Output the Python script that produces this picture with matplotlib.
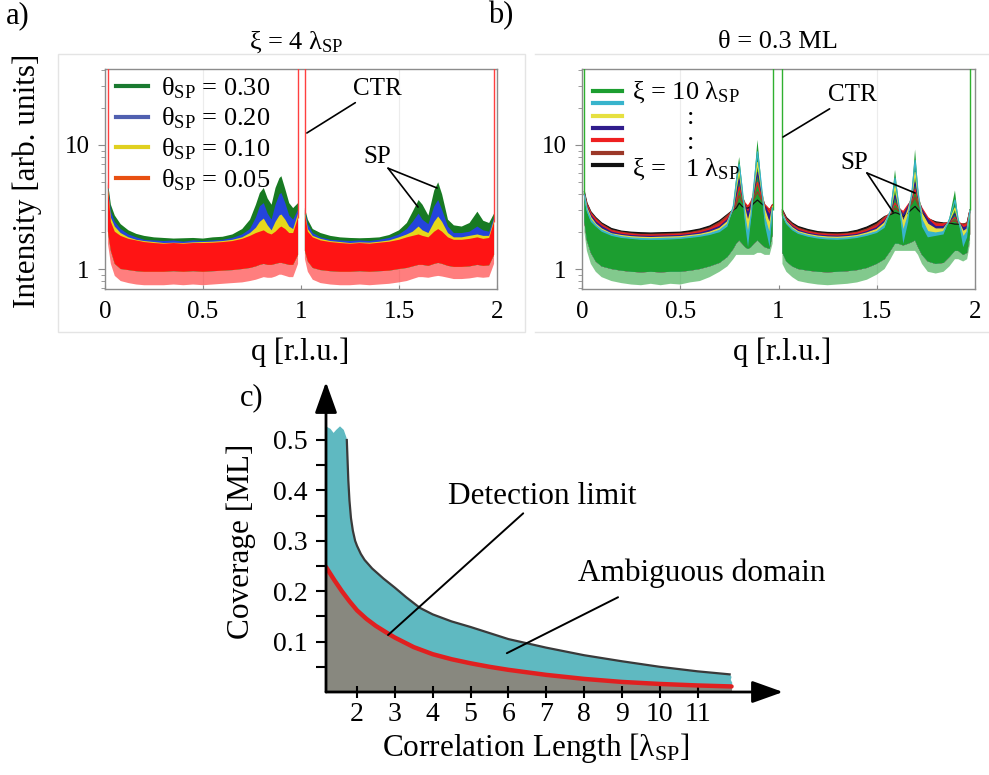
import numpy as np
import matplotlib

matplotlib.use("Agg")

import matplotlib.pyplot as plt
from matplotlib.lines import Line2D
from matplotlib.patches import Rectangle

plt.rcParams["font.family"] = ["Liberation Serif", "DejaVu Serif"]
plt.rcParams["mathtext.fontset"] = "custom"
plt.rcParams["mathtext.rm"] = "Liberation Serif"
plt.rcParams["mathtext.it"] = "Liberation Serif:italic"
plt.rcParams["mathtext.bf"] = "Liberation Serif:bold"

nan = np.nan

# ---- panel a: xi = 4 lambda_SP, four coverages ----
# each curve is drawn as its noise band: sparse floor -> dense core -> top
q_a = [0.015, 0.03, 0.05, 0.08, 0.12, 0.16, 0.2, 0.25, 0.3, 0.35,
       0.4, 0.45, 0.5, 0.55, 0.6, 0.65, 0.7, 0.74, 0.77, 0.79,
       0.81, 0.83, 0.85, 0.87, 0.89, 0.9, 0.92, 0.94, 0.96, 0.985,
       1.0, 1.02, 1.035, 1.06, 1.1, 1.15, 1.2, 1.25, 1.3, 1.35,
       1.4, 1.45, 1.5, 1.54, 1.57, 1.6, 1.62, 1.65, 1.68, 1.7,
       1.72, 1.75, 1.78, 1.82, 1.86, 1.9, 1.93, 1.96, 1.985]
floor_a = [1.6, 1.1, 0.88, 0.8, 0.77, 0.75, 0.74, 0.74, 0.74, 0.75,
           0.74, 0.75, 0.74, 0.75, 0.76, 0.77, 0.78, 0.8, 0.82, 0.84,
           0.86, 0.85, 0.85, 0.87, 0.9, 0.9, 0.88, 0.86, 0.86, 1.1,
           nan, 1.2, 0.95, 0.82, 0.77, 0.75, 0.74, 0.74, 0.75, 0.74,
           0.75, 0.76, 0.78, 0.8, 0.83, 0.86, 0.86, 0.85, 0.87, 0.88,
           0.87, 0.85, 0.83, 0.83, 0.84, 0.86, 0.85, 0.86, 1.1]
core_a = [2.0, 1.4, 1.1, 1.0, 0.98, 0.96, 0.95, 0.95, 0.95, 0.96,
          0.95, 0.96, 0.95, 0.96, 0.97, 0.98, 1.0, 1.02, 1.05, 1.08,
          1.1, 1.08, 1.08, 1.1, 1.12, 1.12, 1.1, 1.08, 1.08, 1.3,
          nan, 1.4, 1.15, 1.02, 0.98, 0.96, 0.95, 0.95, 0.96, 0.95,
          0.96, 0.97, 1.0, 1.02, 1.05, 1.08, 1.08, 1.06, 1.1, 1.12,
          1.1, 1.06, 1.04, 1.04, 1.05, 1.08, 1.06, 1.07, 1.3]
green_a = [5.0, 3.3, 2.7, 2.3, 2.05, 1.92, 1.85, 1.8, 1.78, 1.76,
           1.77, 1.78, 1.76, 1.8, 1.82, 1.9, 2.1, 2.5, 3.3, 4.1,
           4.5, 3.7, 3.3, 4.5, 5.4, 5.6, 4.4, 3.4, 3.1, 3.4,
           nan, 3.1, 2.5, 2.1, 1.95, 1.85, 1.8, 1.78, 1.77, 1.78,
           1.8, 1.88, 2.05, 2.35, 2.9, 3.6, 3.3, 2.7, 4.3, 5.0,
           4.0, 2.5, 2.25, 2.2, 2.35, 2.9, 2.45, 2.35, 2.8]
blue_a = [4.8, 2.9, 2.4, 2.1, 1.9, 1.8, 1.72, 1.7, 1.68, 1.7,
          1.66, 1.7, 1.68, 1.7, 1.72, 1.78, 1.9, 2.1, 2.6, 3.2,
          3.4, 2.8, 2.5, 3.3, 4.0, 4.1, 3.4, 2.7, 2.5, 3.0,
          nan, 3.0, 2.3, 1.95, 1.8, 1.72, 1.7, 1.68, 1.7, 1.68,
          1.72, 1.78, 1.9, 2.1, 2.4, 2.8, 2.5, 2.3, 3.2, 3.6,
          3.0, 2.2, 1.95, 1.95, 2.0, 2.2, 2.05, 2.0, 2.6]
yellow_a = [4.6, 2.6, 2.2, 1.95, 1.8, 1.72, 1.68, 1.65, 1.62, 1.63,
            1.62, 1.64, 1.65, 1.66, 1.68, 1.72, 1.8, 1.95, 2.15, 2.4,
            2.55, 2.25, 2.05, 2.4, 2.7, 2.75, 2.5, 2.2, 2.1, 2.8,
            nan, 2.9, 2.1, 1.85, 1.75, 1.68, 1.65, 1.62, 1.64, 1.63,
            1.66, 1.7, 1.8, 1.9, 2.0, 2.2, 2.05, 1.95, 2.4, 2.65,
            2.4, 1.95, 1.8, 1.8, 1.85, 1.9, 1.85, 1.85, 2.5]
red_a = [4.5, 2.4, 2.0, 1.85, 1.75, 1.7, 1.65, 1.62, 1.6, 1.62,
         1.6, 1.62, 1.62, 1.63, 1.65, 1.68, 1.75, 1.85, 1.95, 2.0,
         2.05, 1.95, 1.9, 2.0, 2.15, 2.2, 2.1, 1.95, 1.95, 2.6,
         nan, 2.8, 2.0, 1.8, 1.7, 1.65, 1.62, 1.6, 1.62, 1.6,
         1.63, 1.66, 1.72, 1.8, 1.85, 1.9, 1.85, 1.8, 2.0, 2.1,
         2.0, 1.8, 1.72, 1.72, 1.75, 1.8, 1.75, 1.78, 2.4]
ctr_q_a = [0.015, 0.985, 1.02, 1.985]
ctr_base_a = [4.5, 2.6, 2.8, 2.4]
labels_a = [r"θ$_\mathrm{SP}$ = 0.30", r"θ$_\mathrm{SP}$ = 0.20",
            r"θ$_\mathrm{SP}$ = 0.10", r"θ$_\mathrm{SP}$ = 0.05"]

# ---- panel b: theta = 0.3 ML, correlation length 10 .. 1 lambda_SP ----
q_b = [0.012, 0.025, 0.045, 0.07, 0.1, 0.15, 0.2, 0.25, 0.3, 0.35,
       0.4, 0.45, 0.5, 0.55, 0.6, 0.65, 0.7, 0.74, 0.77, 0.785,
       0.8, 0.815, 0.83, 0.845, 0.86, 0.875, 0.893, 0.91, 0.93, 0.955,
       0.97, 1.0, 1.02, 1.04, 1.07, 1.1, 1.15, 1.2, 1.25, 1.3,
       1.35, 1.4, 1.45, 1.5, 1.54, 1.57, 1.593, 1.61, 1.635, 1.66,
       1.68, 1.695, 1.71, 1.73, 1.76, 1.8, 1.84, 1.87, 1.898, 1.915,
       1.94, 1.96, 1.975]
floor_b = [2.0, 1.4, 1.1, 0.95, 0.86, 0.8, 0.77, 0.75, 0.74, 0.76,
           0.74, 0.76, 0.75, 0.78, 0.8, 0.86, 0.95, 1.05, 1.2, 1.3,
           1.3, 1.3, 1.3, 1.3, 1.3, 1.3, 1.35, 1.35, 1.3, 1.3,
           1.6, nan, 1.1, 0.95, 0.86, 0.8, 0.77, 0.75, 0.74, 0.75,
           0.76, 0.78, 0.82, 0.9, 1.0, 1.2, 1.4, 1.4, 1.4, 1.4,
           1.4, 1.4, 1.3, 1.1, 0.95, 0.92, 0.95, 1.05, 1.2, 1.2,
           1.15, 1.2, 1.6]
core_b = [2.4, 1.7, 1.35, 1.15, 1.05, 1.0, 0.97, 0.95, 0.94, 0.95,
          0.94, 0.95, 0.95, 0.97, 1.0, 1.05, 1.12, 1.25, 1.45, 1.6,
          1.7, 1.6, 1.5, 1.45, 1.5, 1.6, 1.7, 1.6, 1.5, 1.45,
          1.9, nan, 1.35, 1.15, 1.05, 1.0, 0.97, 0.95, 0.94, 0.95,
          0.96, 0.98, 1.02, 1.1, 1.2, 1.4, 1.6, 1.6, 1.55, 1.6,
          1.65, 1.7, 1.5, 1.3, 1.15, 1.1, 1.12, 1.25, 1.4, 1.4,
          1.3, 1.35, 1.9]
xi10_b = [4.0, 2.9, 2.4, 2.2, 2.0, 1.85, 1.78, 1.75, 1.72, 1.72,
          1.72, 1.73, 1.75, 1.78, 1.82, 1.88, 1.98, 2.2, 3.3, 5.5,
          8.0, 4.8, 2.3, 1.5, 2.5, 5.0, 11.0, 5.5, 2.3, 1.5,
          3.0, nan, 2.7, 2.3, 2.05, 1.92, 1.82, 1.76, 1.73, 1.72,
          1.74, 1.78, 1.85, 1.95, 2.15, 3.0, 6.3, 3.6, 1.6, 2.4,
          4.6, 9.2, 4.5, 2.2, 1.8, 1.85, 1.9, 2.6, 4.3, 2.5,
          1.5, 1.8, 3.0]
xi8_b = [4.0, 3.0, 2.5, 2.25, 2.05, 1.9, 1.82, 1.78, 1.76, 1.75,
         1.76, 1.77, 1.78, 1.82, 1.86, 1.93, 2.05, 2.3, 3.2, 5.0,
         7.0, 4.5, 2.6, 1.9, 2.7, 4.8, 8.8, 5.2, 2.6, 1.9,
         3.1, nan, 2.75, 2.35, 2.1, 1.96, 1.86, 1.8, 1.77, 1.76,
         1.78, 1.82, 1.9, 2.0, 2.25, 2.95, 5.4, 3.5, 2.0, 2.7,
         4.3, 7.5, 4.2, 2.5, 2.0, 1.95, 2.0, 2.5, 3.6, 2.5,
         1.8, 2.0, 3.0]
xi6_b = [4.0, 3.1, 2.6, 2.3, 2.1, 1.92, 1.86, 1.82, 1.8, 1.79,
         1.8, 1.81, 1.82, 1.86, 1.9, 1.98, 2.12, 2.4, 3.1, 4.5,
         6.2, 4.2, 3.0, 2.4, 3.0, 4.5, 7.2, 4.8, 3.0, 2.3,
         3.2, nan, 2.8, 2.4, 2.15, 2.0, 1.9, 1.84, 1.81, 1.8,
         1.82, 1.86, 1.95, 2.08, 2.35, 2.9, 4.6, 3.3, 2.4, 3.0,
         4.0, 6.0, 4.0, 2.8, 2.3, 2.1, 2.1, 2.45, 3.1, 2.45,
         2.0, 2.1, 3.0]
xi4_b = [4.0, 3.2, 2.7, 2.4, 2.2, 1.98, 1.9, 1.86, 1.84, 1.83,
         1.84, 1.85, 1.86, 1.9, 1.95, 2.05, 2.2, 2.5, 3.0, 4.0,
         5.3, 4.0, 3.2, 2.8, 3.3, 4.2, 6.0, 4.4, 3.2, 2.7,
         3.2, nan, 2.85, 2.45, 2.2, 2.05, 1.94, 1.88, 1.85, 1.84,
         1.86, 1.9, 2.0, 2.15, 2.45, 2.85, 3.9, 3.2, 2.7, 3.2,
         3.8, 5.0, 3.8, 3.0, 2.5, 2.2, 2.2, 2.4, 2.8, 2.4,
         2.15, 2.2, 3.0]
xi3_b = [4.0, 3.3, 2.8, 2.5, 2.25, 2.03, 1.95, 1.9, 1.88, 1.87,
         1.88, 1.89, 1.9, 1.94, 2.0, 2.1, 2.3, 2.6, 3.0, 3.6,
         4.6, 3.8, 3.4, 3.2, 3.5, 4.0, 5.0, 4.0, 3.3, 3.0,
         3.3, nan, 2.9, 2.5, 2.25, 2.1, 1.98, 1.92, 1.89, 1.88,
         1.9, 1.95, 2.05, 2.22, 2.55, 2.85, 3.4, 3.1, 2.9, 3.3,
         3.6, 4.4, 3.6, 3.1, 2.6, 2.3, 2.3, 2.4, 2.6, 2.4,
         2.25, 2.3, 3.0]
xi2_b = [4.0, 3.35, 2.85, 2.55, 2.3, 2.06, 1.98, 1.93, 1.9, 1.9,
         1.91, 1.92, 1.93, 1.97, 2.04, 2.15, 2.38, 2.7, 3.0, 3.3,
         3.9, 3.5, 3.3, 3.2, 3.4, 3.7, 4.2, 3.7, 3.3, 3.0,
         3.3, nan, 2.95, 2.55, 2.3, 2.14, 2.02, 1.95, 1.92, 1.91,
         1.93, 1.98, 2.1, 2.3, 2.62, 2.8, 3.1, 2.95, 2.8, 3.1,
         3.4, 3.8, 3.3, 2.95, 2.55, 2.35, 2.32, 2.38, 2.45, 2.35,
         2.3, 2.35, 3.0]
xi1_b = [4.2, 3.4, 2.9, 2.6, 2.35, 2.12, 2.02, 1.98, 1.96, 1.95,
         1.96, 1.97, 1.98, 2.03, 2.1, 2.22, 2.45, 2.75, 3.0, 3.1,
         3.4, 3.2, 3.1, 3.1, 3.2, 3.4, 3.6, 3.4, 3.2, 3.0,
         3.3, nan, 3.0, 2.6, 2.35, 2.2, 2.08, 2.0, 1.97, 1.96,
         1.98, 2.05, 2.18, 2.38, 2.65, 2.75, 2.85, 2.8, 2.65, 2.85,
         3.05, 3.2, 3.0, 2.8, 2.55, 2.4, 2.35, 2.35, 2.3, 2.3,
         2.3, 2.35, 3.0]
ctr_q_b = [0.012, 0.97, 1.02, 1.975]
ctr_base_b = [4.0, 3.0, 2.7, 3.0]

# ---- panel c: detection limit and ambiguous domain ----
limit_x = [1.18, 1.4, 1.6, 1.8, 2.0, 2.25, 2.5, 2.82, 3.0, 3.5,
           4.0, 4.5, 5.0, 5.5, 6.0, 7.0, 8.0, 9.0, 10.0, 11.0, 11.9]
limit_y = [0.248, 0.222, 0.2, 0.18, 0.162, 0.145, 0.131, 0.116, 0.108, 0.089,
           0.075, 0.065, 0.057, 0.05, 0.044, 0.034, 0.026, 0.02, 0.016, 0.013, 0.011]
cap_x = [1.18, 1.3, 1.38, 1.45, 1.55, 1.65, 1.72]
cap_y = [0.527, 0.522, 0.514, 0.52, 0.527, 0.52, 0.505]
amb_x = [1.73, 1.75, 1.77, 1.8, 1.84, 1.89, 1.95, 2.0, 2.1, 2.2,
         2.4, 2.7, 3.0, 3.3, 3.66, 4.0, 4.5, 5.0, 5.5, 6.0,
         7.0, 8.0, 9.0, 10.0, 11.0, 11.85]
amb_y = [0.50, 0.46, 0.42, 0.38, 0.345, 0.32, 0.30, 0.29, 0.274, 0.262,
         0.245, 0.225, 0.207, 0.188, 0.167, 0.154, 0.14, 0.129, 0.117, 0.105,
         0.088, 0.073, 0.061, 0.05, 0.041, 0.035]
end_x = [11.9, 11.88, 11.92]
end_y = [0.030, 0.024, 0.018]

colors_a = ["#187a22", "#2444dc", "#e6d81a", "#ff1414"]
legend_colors_a = ["#1a7a30", "#5060b0", "#e0d020", "#e85012"]
colors_b = ["#1c9e30", "#38b4cc", "#e6e040", "#301c8c", "#ee2020", "#9c3828", "#111111"]
spine_gray = "#8c8c8c"

W, H = 989, 775
fig = plt.figure(figsize=(W / 100, H / 100), dpi=100)


def fx(px):
    return px / W


def fy(py):
    return 1 - py / H


def style_spectrum_axes(ax):
    ax.set_yscale("log")
    ax.set_xlim(0, 2)
    ax.set_ylim(0.69, 41)
    ax.set_xticks([0, 0.5, 1, 1.5, 2])
    ax.set_xticklabels(["0", "0.5", "1", "1.5", "2"])
    ax.set_yticks([1, 10])
    ax.set_yticklabels(["1", "10"])
    ax.tick_params(axis="x", direction="in", length=3, color=spine_gray,
                   labelsize=18, pad=9)
    ax.tick_params(axis="y", which="major", direction="out", length=5,
                   color=spine_gray, labelsize=18, pad=6)
    ax.tick_params(axis="y", which="minor", direction="out", length=3,
                   color=spine_gray)
    for s in ax.spines.values():
        s.set_color(spine_gray)
        s.set_linewidth(1.0)
    for g in [0.5, 1.5]:
        ax.axvline(g, color="#ececec", lw=0.8, zorder=0)


def noise_bands(ax, q, floor, core, tops, colors):
    # sparse lower fringe once, in the colour that ends up on top
    ax.fill_between(q, floor, core, color=colors[-1], alpha=0.55, lw=0, zorder=2)
    for top, c in zip(tops, colors):
        ax.fill_between(q, core, top, color=c, lw=0, zorder=2)


line_kw = dict(arrowstyle="-", color="k", lw=1.2, shrinkA=0, shrinkB=0)

# panel frames
fig.add_artist(Rectangle((fx(58), fy(332)), fx(525) - fx(58), fy(54) - fy(332),
                         transform=fig.transFigure, fill=False,
                         edgecolor="#e4e4e4", lw=1))
fig.add_artist(Line2D([fx(535), fx(988)], [fy(54), fy(54)], color="#e4e4e4", lw=1))
fig.add_artist(Line2D([fx(535), fx(988)], [fy(332), fy(332)], color="#e4e4e4", lw=1))

# ---- panel a ----
ax_a = fig.add_axes([fx(105), fy(289), fx(497) - fx(105), fy(69) - fy(289)])
noise_bands(ax_a, np.array(q_a), floor_a, core_a,
            [green_a, blue_a, yellow_a, red_a], colors_a)
ax_a.vlines(ctr_q_a, ctr_base_a, 100, color="#ff4040", lw=1.0, zorder=3)
style_spectrum_axes(ax_a)
handles_a = [Line2D([], [], color=c, lw=3) for c in legend_colors_a]
ax_a.legend(handles_a, labels_a, loc="upper left", bbox_to_anchor=(0.022, 0.985),
            frameon=False, fontsize=19, handlelength=1.2, handletextpad=0.5,
            labelspacing=0.2, borderpad=0.1, borderaxespad=0)
ax_a.annotate("CTR", xy=(1.03, 12.5), xytext=(1.265, 23.1), fontsize=18,
              ha="left", va="bottom", arrowprops=line_kw)
ax_a.text(1.39, 8.0, "SP", fontsize=18, ha="center", va="center")
for xe, ye in [(1.597, 3.16), (1.694, 4.5)]:
    ax_a.annotate("", xy=(xe, ye), xytext=(1.444, 6.5), arrowprops=line_kw)

# ---- panel b ----
ax_b = fig.add_axes([fx(582), fy(289), fx(975) - fx(582), fy(69) - fy(289)])
series_b = [xi10_b, xi8_b, xi6_b, xi4_b, xi3_b, xi2_b, xi1_b]
noise_bands(ax_b, np.array(q_b), floor_b, core_b, series_b[::-1], colors_b[::-1])
# peak outlines of the shorter correlation lengths stay visible over the green
for top, c in list(zip(series_b, colors_b))[:0:-1]:
    ax_b.plot(q_b, top, color=c, lw=0.9, zorder=3)
ax_b.vlines(ctr_q_b, ctr_base_b, 100, color="#30b030", lw=1.0, zorder=3)
style_spectrum_axes(ax_b)
handles_b = [Line2D([], [], color=c, lw=3) for c in colors_b]
ax_b.legend(handles_b, [""] * 7, loc="upper left", bbox_to_anchor=(0.028, 0.915),
            frameon=False, fontsize=6.5, handlelength=3.2, handletextpad=0,
            labelspacing=0.45, borderpad=0, borderaxespad=0)
ax_b.text(0.127, 0.895, r"ξ = 10 λ$_\mathrm{SP}$", transform=ax_b.transAxes,
          fontsize=19, ha="left", va="center")
ax_b.text(0.277, 0.777, ":", transform=ax_b.transAxes, fontsize=19,
          ha="center", va="center")
ax_b.text(0.277, 0.664, ":", transform=ax_b.transAxes, fontsize=19,
          ha="center", va="center")
ax_b.text(0.127, 0.545, r"ξ =   1 λ$_\mathrm{SP}$", transform=ax_b.transAxes,
          fontsize=19, ha="left", va="center")
ax_b.annotate("CTR", xy=(1.023, 11.6), xytext=(1.252, 20.6), fontsize=18,
              ha="left", va="bottom", arrowprops=line_kw)
ax_b.text(1.384, 7.16, "SP", fontsize=18, ha="center", va="center")
for xe, ye in [(1.583, 2.88), (1.695, 4.1)]:
    ax_b.annotate("", xy=(xe, ye), xytext=(1.45, 5.95), arrowprops=line_kw)

# labels shared by the spectra
fig.text(fx(27), fy(181), "Intensity [arb. units]", rotation=90, fontsize=22.5,
         ha="center", va="center")
fig.text(fx(300), fy(352), "q [r.l.u.]", fontsize=22, ha="center", va="center")
fig.text(fx(782), fy(352), "q [r.l.u.]", fontsize=22, ha="center", va="center")
fig.text(fx(296), fy(42), r"ξ = 4 λ$_\mathrm{SP}$", fontsize=19, ha="center", va="center")
fig.text(fx(778), fy(42), "θ = 0.3 ML", fontsize=19, ha="center", va="center")
fig.text(fx(6), fy(16), "a)", fontsize=22, ha="left", va="center")
fig.text(fx(488), fy(16), "b)", fontsize=22, ha="left", va="center")
fig.text(fx(240), fy(398), "c)", fontsize=22, ha="left", va="center")

# ---- panel c ----
x0, x1, y1 = 1.18, 13.26, 0.615
ax_c = fig.add_axes([fx(326), fy(692), fx(783) - fx(326), fy(382) - fy(692)])
ax_c.set_xlim(x0, x1)
ax_c.set_ylim(0, y1)
ax_c.fill_between(limit_x, 0, limit_y, color="#88887f", lw=0, zorder=1)
poly_x = cap_x + amb_x + end_x + limit_x[::-1]
poly_y = cap_y + amb_y + end_y + limit_y[::-1]
ax_c.fill(poly_x, poly_y, color="#5fb9c1", lw=0, zorder=1)
ax_c.plot(amb_x, amb_y, color="#3a3a3a", lw=1.6, zorder=2)
ax_c.plot(limit_x, limit_y, color="#e02020", lw=3.2, solid_capstyle="round", zorder=3)
for s in ax_c.spines.values():
    s.set_visible(False)
arrow = dict(arrowstyle="-|>,head_length=0.95,head_width=0.34", color="k", lw=2,
             mutation_scale=20, shrinkA=0, shrinkB=0)
ax_c.annotate("", xy=(x1, 0), xytext=(x0, 0), arrowprops=arrow, annotation_clip=False)
ax_c.annotate("", xy=(x0, y1), xytext=(x0, 0), arrowprops=arrow, annotation_clip=False)
ax_c.set_xticks(range(2, 12))
ax_c.set_yticks([0.1, 0.2, 0.3, 0.4, 0.5])
ax_c.set_yticklabels(["0.1", "0.2", "0.3", "0.4", "0.5"])
ax_c.set_yticks([0.05, 0.15, 0.25, 0.35, 0.45], minor=True)
ax_c.tick_params(axis="x", direction="inout", length=8, width=1.5, labelsize=20, pad=3)
ax_c.tick_params(axis="y", which="both", direction="out", length=7, width=1.5,
                 labelsize=20, pad=6)
ax_c.annotate("Detection limit", xy=(2.82, 0.113), xytext=(6.9, 0.36), fontsize=22.5,
              ha="center", va="bottom",
              arrowprops=dict(arrowstyle="-", color="k", lw=1.4, shrinkA=0, shrinkB=0))
ax_c.annotate("", xy=(5.96, 0.077), xytext=(8.9, 0.188),
              arrowprops=dict(arrowstyle="-", color="k", lw=1.4, shrinkA=0, shrinkB=0))
fig.text(fx(702), fy(573), "Ambiguous domain", fontsize=22.5, ha="center", va="center")
fig.text(fx(241), fy(541), "Coverage [ML]", rotation=90, fontsize=22.5,
         ha="center", va="center")
fig.text(fx(536), fy(748), r"Correlation Length [λ$_\mathrm{SP}$]", fontsize=22.5,
         ha="center", va="center")

fig.savefig("out.png", dpi=100)
